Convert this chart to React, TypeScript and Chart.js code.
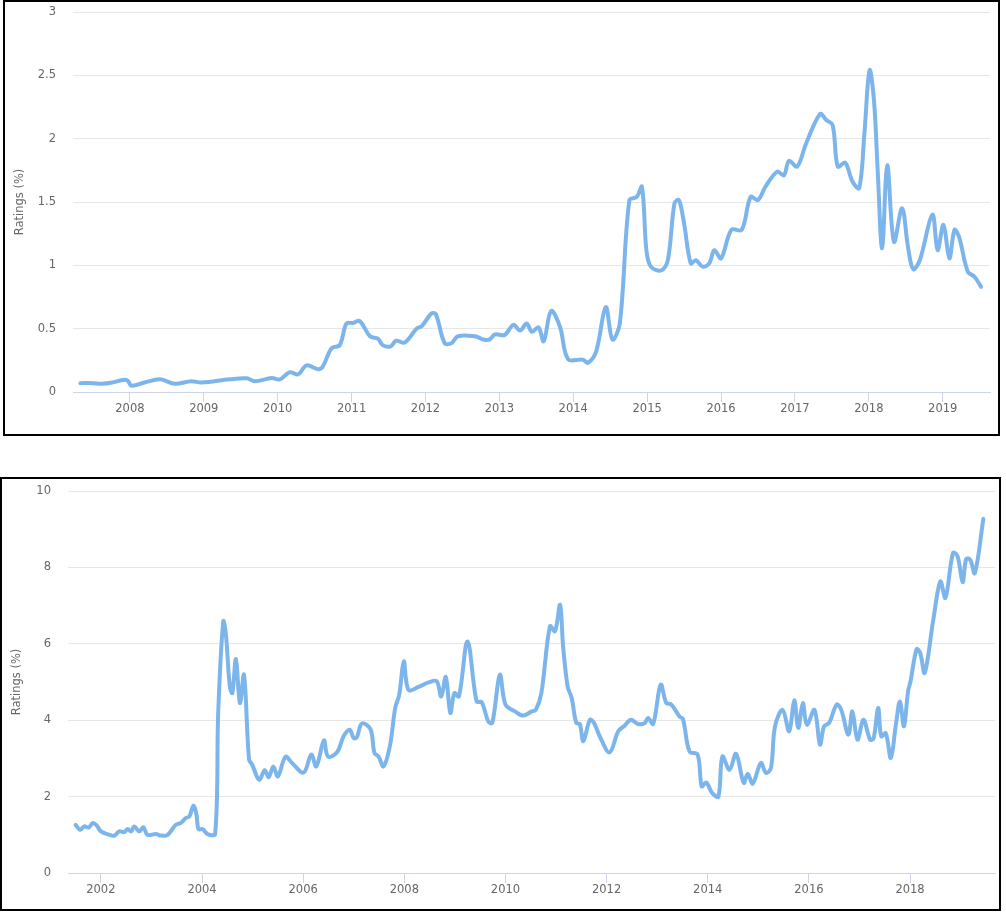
import React, { useEffect, useRef } from "react";
import Chart from "chart.js/auto";

// ---- Top chart data (decimal year, rating %) ----
const topYears = [
  2007.33, 2007.5, 2007.62, 2007.76, 2007.9, 2007.97, 2008.02, 2008.2, 2008.41, 2008.61,
  2008.83, 2008.97, 2009.35, 2009.58, 2009.69, 2009.92, 2010.03, 2010.16, 2010.28, 2010.39,
  2010.55, 2010.61, 2010.73, 2010.84, 2010.93, 2011.02, 2011.11, 2011.25, 2011.36, 2011.42,
  2011.53, 2011.6, 2011.72, 2011.88, 2011.95, 2012.08, 2012.14, 2012.26, 2012.35, 2012.44,
  2012.67, 2012.78, 2012.87, 2012.94, 2013.07, 2013.19, 2013.28, 2013.37, 2013.44, 2013.53,
  2013.6, 2013.7, 2013.82, 2013.93, 2014.13, 2014.2, 2014.31, 2014.44, 2014.53, 2014.63,
  2014.76, 2014.86, 2014.93, 2014.99, 2015.05, 2015.19, 2015.28, 2015.37, 2015.43, 2015.5,
  2015.59, 2015.66, 2015.75, 2015.84, 2015.91, 2016.0, 2016.14, 2016.28, 2016.4, 2016.5,
  2016.6, 2016.76, 2016.85, 2016.92, 2017.03, 2017.15, 2017.34, 2017.42, 2017.51, 2017.58,
  2017.68, 2017.78, 2017.87, 2017.94, 2018.01, 2018.07, 2018.12, 2018.18, 2018.25, 2018.34,
  2018.45, 2018.53, 2018.6, 2018.69, 2018.86, 2018.93, 2019.01, 2019.09, 2019.16, 2019.22,
  2019.34, 2019.43, 2019.52,
];
const topValues = [
  0.07, 0.07, 0.065, 0.075, 0.095, 0.09, 0.05, 0.075, 0.1, 0.065,
  0.085, 0.075, 0.1, 0.108, 0.085, 0.11, 0.1, 0.155, 0.14, 0.21,
  0.18, 0.2, 0.345, 0.37, 0.54, 0.545, 0.56, 0.44, 0.42, 0.37,
  0.36, 0.405, 0.39, 0.5, 0.52, 0.62, 0.615, 0.385, 0.385, 0.44,
  0.44, 0.415, 0.415, 0.455, 0.45, 0.53, 0.485, 0.54, 0.475, 0.51,
  0.4, 0.64, 0.515, 0.26, 0.255, 0.23, 0.32, 0.67, 0.415, 0.54,
  1.515, 1.54, 1.62, 1.12, 0.99, 0.96, 1.04, 1.49, 1.515, 1.33,
  1.016, 1.04, 0.99, 1.016, 1.12, 1.055, 1.28, 1.28, 1.54, 1.515,
  1.62, 1.74, 1.71, 1.825, 1.78, 1.96, 2.195, 2.15, 2.107, 1.78,
  1.81, 1.66, 1.61, 2.04, 2.54, 2.3, 1.75, 1.135, 1.79, 1.186,
  1.45, 1.146, 0.97, 1.04, 1.4, 1.12, 1.32, 1.055, 1.28, 1.226,
  0.95, 0.91, 0.83,
];

// ---- Bottom chart data (decimal year, rating %) ----
const bottomYears = [
  2001.5, 2001.59, 2001.67, 2001.76, 2001.84, 2001.92, 2002.0, 2002.17, 2002.27, 2002.36,
  2002.46, 2002.53, 2002.6, 2002.66, 2002.76, 2002.84, 2002.92, 2003.09, 2003.19, 2003.32,
  2003.48, 2003.58, 2003.68, 2003.75, 2003.83, 2003.89, 2003.93, 2004.01, 2004.11, 2004.26,
  2004.32, 2004.42, 2004.47, 2004.55, 2004.6, 2004.67, 2004.75, 2004.83, 2004.93, 2004.99,
  2005.13, 2005.24, 2005.32, 2005.41, 2005.5, 2005.65, 2005.78, 2006.01, 2006.16, 2006.26,
  2006.41, 2006.49, 2006.67, 2006.8, 2006.92, 2007.0, 2007.06, 2007.16, 2007.33, 2007.41,
  2007.49, 2007.59, 2007.72, 2007.82, 2007.9, 2007.99, 2008.08, 2008.28, 2008.48, 2008.64,
  2008.73, 2008.82, 2008.91, 2008.99, 2009.08, 2009.25, 2009.43, 2009.53, 2009.66, 2009.74,
  2009.89, 2010.0, 2010.19, 2010.35, 2010.52, 2010.6, 2010.71, 2010.88, 2010.98, 2011.08,
  2011.14, 2011.23, 2011.31, 2011.4, 2011.47, 2011.54, 2011.67, 2011.75, 2011.87, 2012.06,
  2012.23, 2012.36, 2012.48, 2012.62, 2012.75, 2012.82, 2012.92, 2013.07, 2013.18, 2013.28,
  2013.44, 2013.51, 2013.64, 2013.8, 2013.88, 2013.97, 2014.09, 2014.21, 2014.29, 2014.43,
  2014.56, 2014.71, 2014.79, 2014.89, 2015.05, 2015.15, 2015.25, 2015.33, 2015.48, 2015.61,
  2015.71, 2015.79, 2015.88, 2015.96, 2016.11, 2016.22, 2016.3, 2016.4, 2016.55, 2016.64,
  2016.78, 2016.86, 2016.96, 2017.08, 2017.21, 2017.28, 2017.37, 2017.43, 2017.52, 2017.62,
  2017.72, 2017.8, 2017.88, 2017.96, 2018.01, 2018.13, 2018.2, 2018.29, 2018.46, 2018.6,
  2018.7, 2018.85, 2018.94, 2019.04, 2019.11, 2019.19, 2019.28, 2019.45,
];
const bottomValues = [
  1.26, 1.13, 1.22, 1.19, 1.31, 1.24, 1.09, 1.0, 0.98, 1.09,
  1.07, 1.15, 1.09, 1.22, 1.09, 1.2, 1.0, 1.02, 0.98, 1.0,
  1.26, 1.31, 1.44, 1.48, 1.76, 1.53, 1.15, 1.15, 1.02, 1.02,
  4.19, 6.59, 6.28, 4.88, 4.71, 5.6, 4.45, 5.19, 2.97, 2.84,
  2.44, 2.69, 2.51, 2.79, 2.53, 3.04, 2.88, 2.63, 3.1, 2.79,
  3.47, 3.05, 3.16, 3.58, 3.75, 3.53, 3.55, 3.91, 3.77, 3.14,
  3.05, 2.79, 3.36, 4.32, 4.67, 5.54, 4.8, 4.87, 4.99, 5.02,
  4.62, 5.13, 4.19, 4.71, 4.62, 6.06, 4.49, 4.47, 3.97, 3.93,
  5.19, 4.41, 4.23, 4.12, 4.23, 4.27, 4.71, 6.46, 6.33, 7.02,
  5.93, 4.88, 4.58, 3.93, 3.9, 3.45, 4.01, 3.93, 3.56, 3.16,
  3.71, 3.86, 4.01, 3.9, 3.92, 4.06, 3.9, 4.93, 4.45, 4.41,
  4.1, 4.03, 3.18, 3.1, 2.27, 2.37, 2.09, 2.0, 3.05, 2.7,
  3.12, 2.36, 2.6, 2.34, 2.88, 2.62, 2.75, 3.84, 4.27, 3.71,
  4.52, 3.8, 4.45, 3.88, 4.27, 3.36, 3.84, 3.93, 4.41, 4.27,
  3.62, 4.23, 3.49, 4.01, 3.49, 3.53, 4.32, 3.58, 3.66, 3.01,
  3.88, 4.49, 3.84, 4.75, 5.02, 5.86, 5.76, 5.24, 6.63, 7.63,
  7.2, 8.38, 8.29, 7.61, 8.22, 8.2, 7.85, 9.27,
];

const yTitle = "Ratings (%)";
const lineColor = "#7cb5ec";
const textColor = "#666666";
const fontFamily = "'DejaVu Sans', Verdana, sans-serif";

type Cfg = {
  years: number[];
  values: number[];
  xMin: number;
  xMax: number;
  xStep: number;
  yMax: number;
  yStep: number;
  yAxisWidth: number;
  xAxisHeight: number;
  padTop: number;
  padRight: number;
};

function LineBox(props: {
  cfg: Cfg;
  left: number;
  top: number;
  width: number;
  height: number;
}) {
  const ref = useRef<HTMLCanvasElement | null>(null);
  const { cfg, left, top, width, height } = props;
  const border = 2;
  const cw = width - border * 2;
  const ch = height - border * 2;

  useEffect(() => {
    if (!ref.current) return;
    const font = { family: fontFamily, size: 11.5 };
    const chart = new Chart(ref.current, {
      type: "line",
      data: {
        datasets: [
          {
            data: cfg.years.map((x, i) => ({ x, y: cfg.values[i] })),
            borderColor: lineColor,
            borderWidth: 4,
            pointRadius: 0,
            tension: 0.35,
            fill: false,
            borderCapStyle: "round",
            borderJoinStyle: "round",
          },
        ],
      },
      options: {
        animation: false,
        responsive: false,
        maintainAspectRatio: false,
        events: [],
        layout: {
          padding: { left: 0, right: cfg.padRight, top: cfg.padTop, bottom: 0 },
        },
        plugins: { legend: { display: false }, tooltip: { enabled: false } },
        scales: {
          x: {
            type: "linear",
            min: cfg.xMin,
            max: cfg.xMax,
            afterFit: (s: any) => {
              s.height = cfg.xAxisHeight;
            },
            grid: {
              drawOnChartArea: false,
              drawTicks: true,
              tickLength: 10,
              tickColor: "#ccd6eb",
              color: "#ccd6eb",
            },
            border: { color: "#ccd6eb", width: 1 },
            ticks: {
              stepSize: cfg.xStep,
              includeBounds: false,
              autoSkip: false,
              maxRotation: 0,
              minRotation: 0,
              padding: 0,
              color: textColor,
              font,
              callback: (v: any) => String(v),
            },
          },
          y: {
            min: 0,
            max: cfg.yMax,
            afterFit: (s: any) => {
              s.width = cfg.yAxisWidth;
            },
            grid: {
              color: "#e6e6e6",
              drawTicks: true,
              tickLength: 17,
              tickColor: "rgba(0,0,0,0)",
              lineWidth: 1,
            },
            border: { display: false },
            ticks: {
              stepSize: cfg.yStep,
              padding: 0,
              color: textColor,
              font,
              callback: (v: any) => String(v),
            },
            title: {
              display: true,
              text: yTitle,
              color: textColor,
              font,
              padding: { top: 8, bottom: 0 },
            },
          },
        },
      },
    } as any);
    return () => chart.destroy();
  }, []);

  return (
    <div
      style={{
        position: "absolute",
        left,
        top,
        width,
        height,
        boxSizing: "border-box",
        border: `${border}px solid #000`,
        background: "#fff",
      }}
    >
      <canvas
        ref={ref}
        width={cw}
        height={ch}
        style={{ position: "absolute", left: 0, top: 0, width: cw, height: ch, display: "block" }}
      />
    </div>
  );
}

const topCfg: Cfg = {
  years: topYears,
  values: topValues,
  xMin: 2007.23,
  xMax: 2019.64,
  xStep: 1,
  yMax: 3,
  yStep: 0.5,
  yAxisWidth: 68,
  xAxisHeight: 42,
  padTop: 10,
  padRight: 8,
};

const bottomCfg: Cfg = {
  years: bottomYears,
  values: bottomValues,
  xMin: 2001.35,
  xMax: 2019.68,
  xStep: 2,
  yMax: 10,
  yStep: 2,
  yAxisWidth: 66,
  xAxisHeight: 36,
  padTop: 12,
  padRight: 4,
};

export default function App() {
  return (
    <div style={{ position: "absolute", left: 0, top: 0, width: 1006, height: 913, background: "#fff" }}>
      <LineBox cfg={topCfg} left={3} top={0} width={997} height={436} />
      <LineBox cfg={bottomCfg} left={0} top={477} width={1001} height={434} />
    </div>
  );
}
